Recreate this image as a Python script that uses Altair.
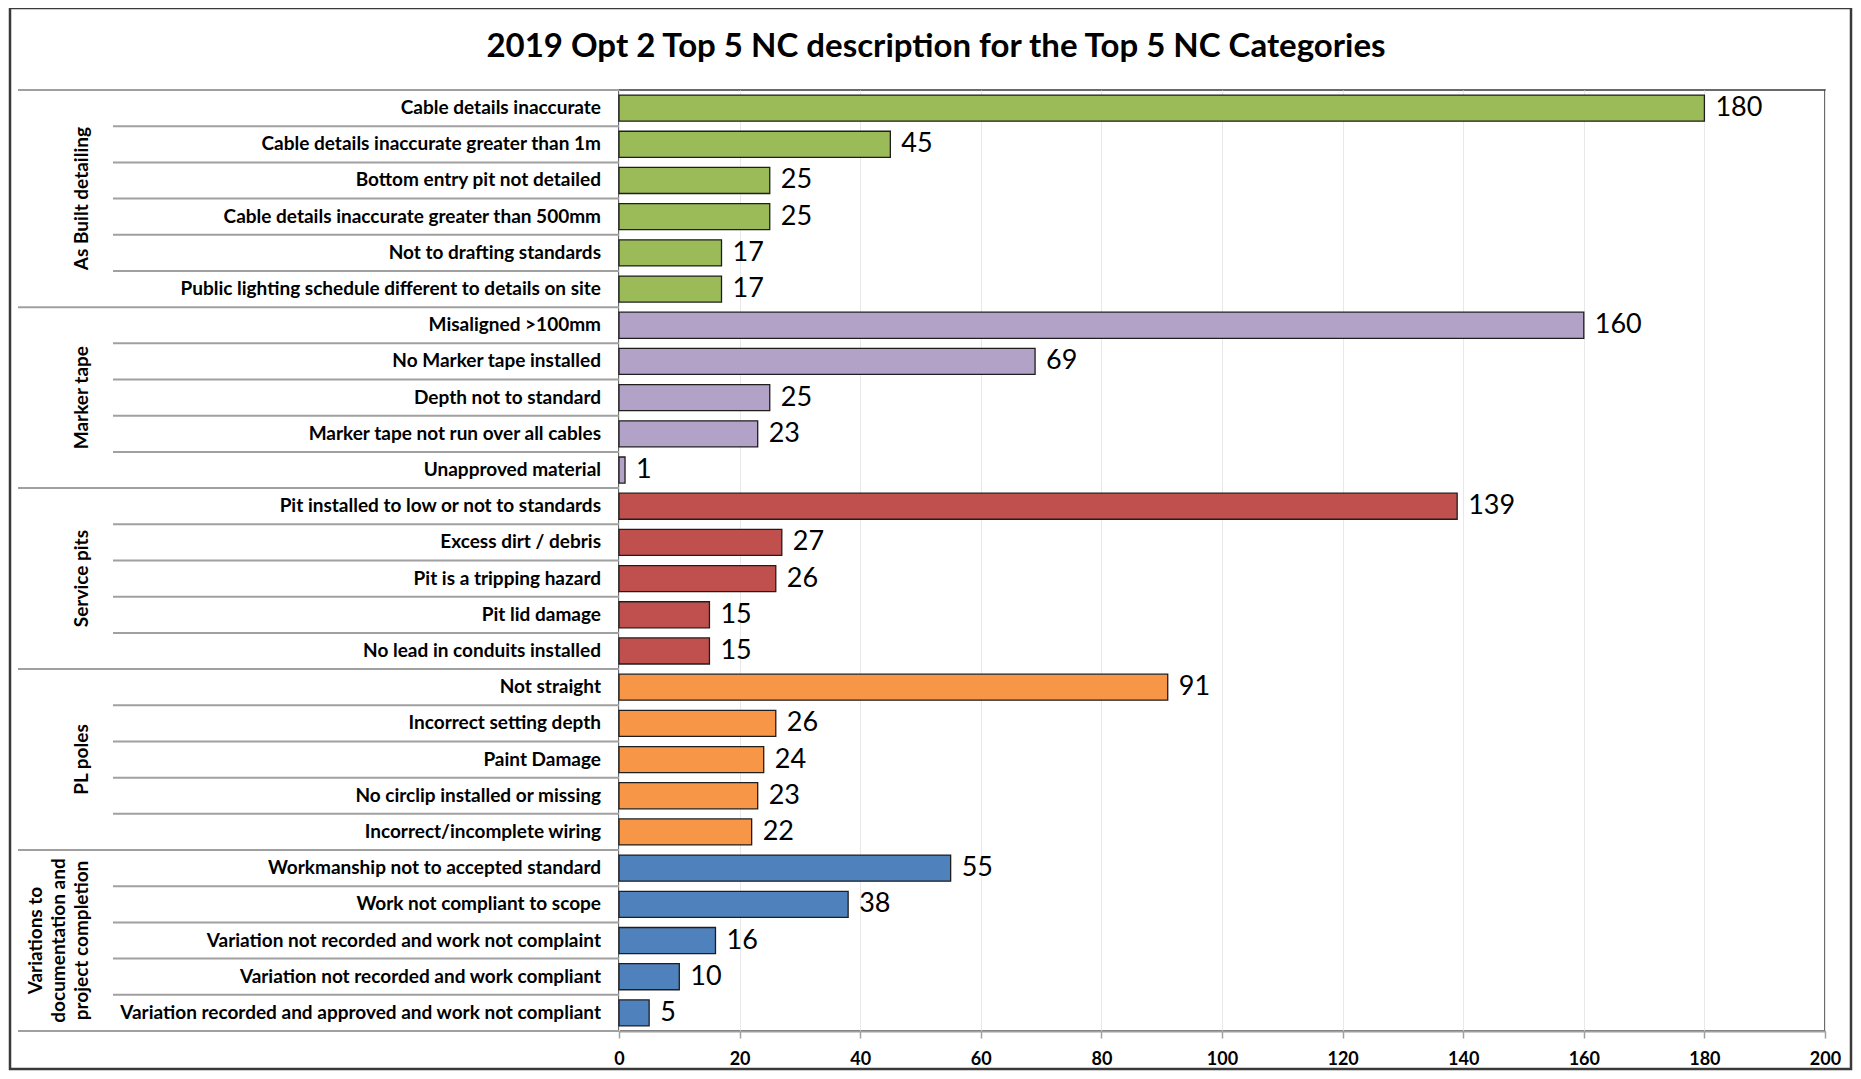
import altair as alt
import pandas as pd

title_text = ["2019 Opt 2 Top 5 NC description for the Top 5 NC Categories"]

groups = [
    "As Built detailing",
    "Marker tape",
    "Service pits",
    "PL poles",
    "Variations to\ndocumentation and\nproject completion",
]
colors = ["#9BBB59", "#B3A2C7", "#C0504D", "#F79646", "#4F81BD"]

labels_asbuilt = [
    "Cable details inaccurate",
    "Cable details inaccurate greater than 1m",
    "Bottom entry pit not detailed",
    "Cable details inaccurate greater than 500mm",
    "Not to drafting standards",
    "Public lighting schedule different to details on site",
]
values_asbuilt = [180, 45, 25, 25, 17, 17]

labels_marker = [
    "Misaligned >100mm",
    "No Marker tape installed",
    "Depth not to standard",
    "Marker tape not run over all cables",
    "Unapproved material",
]
values_marker = [160, 69, 25, 23, 1]

labels_pits = [
    "Pit installed to low or not to standards",
    "Excess dirt / debris",
    "Pit is a tripping hazard",
    "Pit lid damage",
    "No lead in conduits installed",
]
values_pits = [139, 27, 26, 15, 15]

labels_poles = [
    "Not straight",
    "Incorrect setting depth",
    "Paint Damage",
    "No circlip installed or missing",
    "Incorrect/incomplete wiring",
]
values_poles = [91, 26, 24, 23, 22]

labels_var = [
    "Workmanship not to accepted standard",
    "Work not compliant to scope",
    "Variation not recorded and work not complaint",
    "Variation not recorded and work compliant",
    "Variation recorded and approved and work not compliant",
]
values_var = [55, 38, 16, 10, 5]

x_ticks = [0, 20, 40, 60, 80, 100, 120, 140, 160, 180, 200]

# ---- build tables from the lists ----
all_labels = [labels_asbuilt, labels_marker, labels_pits, labels_poles, labels_var]
all_values = [values_asbuilt, values_marker, values_pits, values_poles, values_var]
rows = []
grows = []
i = 0
for g, labs, vals in zip(groups, all_labels, all_values):
    start = i
    for k, (lab, v) in enumerate(zip(labs, vals)):
        rows.append({"label": lab, "value": v, "group": g, "idx": i,
                     "last": k == len(labs) - 1})
        i += 1
    grows.append({"group": g, "mid": (start + i - 1) / 2, "nlines": g.count("\n")})
df = pd.DataFrame(rows)
gdf = pd.DataFrame(grows)
n_rows = len(df)

FONT = "Lato"
W, H = 1206, 941

yscale = alt.Scale(domain=[-0.5, n_rows - 0.5], reverse=True, nice=False, zero=False)
xscale = alt.Scale(domain=[0, 200], nice=False)

base = alt.Chart(df)

frame = alt.Chart(pd.DataFrame({"a": [0]})).mark_rect(
    fillOpacity=0, stroke="#3a3a3a", strokeWidth=2.5
).encode(x=alt.value(-609), x2=alt.value(1232), y=alt.value(-82), y2=alt.value(979))

title = alt.Chart(pd.DataFrame({"t": title_text})).mark_text(
    font=FONT, fontSize=33, fontWeight="bold", color="black", align="center", baseline="middle"
).encode(x=alt.value(317), y=alt.value(-43), text="t:N")

bars = base.mark_bar(stroke="#1e1e1e", strokeWidth=1.3).transform_calculate(
    lo="datum.idx - 0.36", hi="datum.idx + 0.36"
).encode(
    x=alt.X("value:Q", scale=xscale,
            axis=alt.Axis(values=x_ticks, grid=True, gridColor="#e8e8e8", gridWidth=1,
                          domainColor="#a0a0a0", domainWidth=2, tickColor="#a0a0a0",
                          tickSize=7, tickWidth=1.5, labelFont=FONT, labelFontSize=18,
                          labelFontWeight="bold", labelColor="black", labelPadding=12,
                          labelFlush=False, title=None)),
    x2=alt.datum(0),
    y=alt.Y("lo:Q", scale=yscale, axis=None),
    y2="hi:Q",
    color=alt.Color("group:N", scale=alt.Scale(domain=groups, range=colors), legend=None),
)

values_text = base.mark_text(
    font=FONT, fontSize=27, align="left", baseline="middle", dx=11, color="black"
).encode(x=alt.X("value:Q", scale=xscale), y=alt.Y("idx:Q", scale=yscale), text="value:Q")

row_labels = base.mark_text(
    font=FONT, fontSize=19, fontWeight="bold", align="right", baseline="middle", color="black"
).encode(x=alt.value(-18), y=alt.Y("idx:Q", scale=yscale), text="label:N")

row_rules = base.transform_filter("!datum.last").transform_calculate(
    sep="datum.idx + 0.5"
).mark_rule(color="#a0a0a0", strokeWidth=2).encode(
    x=alt.value(-506), x2=alt.value(0), y=alt.Y("sep:Q", scale=yscale)
)

group_rules = base.transform_filter("datum.last").transform_calculate(
    sep="datum.idx + 0.5"
).mark_rule(color="#a0a0a0", strokeWidth=2).encode(
    x=alt.value(-601), x2=alt.value(0), y=alt.Y("sep:Q", scale=yscale)
)

top_rule = alt.Chart(pd.DataFrame({"sep": [-0.5]})).mark_rule(
    color="#a0a0a0", strokeWidth=2
).encode(x=alt.value(-601), x2=alt.value(0), y=alt.Y("sep:Q", scale=yscale))

group_labels = alt.Chart(gdf).transform_calculate(
    gx="-527 - 23 * datum.nlines"
).mark_text(
    font=FONT, fontSize=19, fontWeight="bold", angle=270, align="center",
    baseline="bottom", lineBreak="\n", lineHeight=23, color="black"
).encode(x=alt.X("gx:Q", scale=None), y=alt.Y("mid:Q", scale=yscale), text="group:N")

chart = alt.layer(
    frame, title, bars, values_text, row_labels, row_rules, group_rules, top_rule, group_labels
).properties(
    width=W, height=H, autosize="none",
    padding={"left": 611, "top": 82, "right": 28, "bottom": 40},
    background="white",
).configure_view(stroke="#3a3a3a", strokeWidth=1.5)

chart.save("out.html", embed_options={"renderer": "svg", "actions": False})
